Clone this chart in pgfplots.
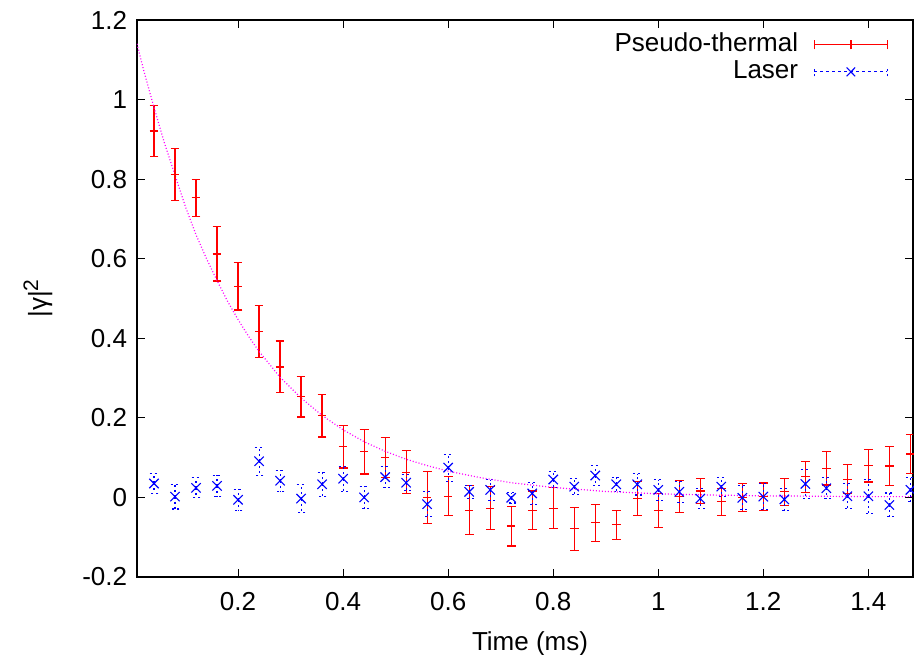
\documentclass[border=0pt]{standalone}
\usepackage{fontspec}
\setmainfont{Liberation Sans}
\usepackage{pgfplots}
\usepackage{pgfplotstable}
\pgfplotsset{compat=1.18}
\pgfplotstableread{
x y e
0.04 0.921 0.065
0.08 0.812 0.065
0.12 0.753 0.047
0.16 0.612 0.068
0.20 0.531 0.060
0.24 0.417 0.065
0.28 0.328 0.065
0.32 0.253 0.051
0.36 0.205 0.053
0.40 0.127 0.053
0.44 0.115 0.056
0.48 0.101 0.050
0.52 0.063 0.054
0.56 0.000 0.065
0.60 0.003 0.049
0.64 -0.032 0.062
0.68 -0.027 0.054
0.72 -0.072 0.050
0.76 -0.032 0.048
0.80 -0.027 0.051
0.84 -0.079 0.054
0.88 -0.064 0.046
0.92 -0.069 0.037
0.96 -0.003 0.043
1.00 -0.033 0.043
1.04 0.003 0.040
1.08 0.016 0.032
1.12 -0.011 0.034
1.16 0.000 0.035
1.20 0.002 0.034
1.24 0.014 0.034
1.28 0.052 0.039
1.32 0.073 0.042
1.36 0.046 0.036
1.40 0.080 0.041
1.44 0.079 0.049
1.48 0.109 0.049
}\thermal
\pgfplotstableread{
x y e
0.04 0.035 0.025
0.08 0.002 0.031
0.12 0.024 0.025
0.16 0.029 0.027
0.20 -0.006 0.026
0.24 0.091 0.035
0.28 0.042 0.026
0.32 -0.003 0.035
0.36 0.033 0.030
0.40 0.047 0.031
0.44 0.000 0.028
0.48 0.051 0.027
0.52 0.037 0.020
0.56 -0.017 0.032
0.60 0.075 0.034
0.64 0.014 0.016
0.68 0.019 0.026
0.72 -0.001 0.013
0.76 0.010 0.027
0.80 0.045 0.021
0.84 0.027 0.020
0.88 0.055 0.025
0.92 0.033 0.018
0.96 0.033 0.027
1.00 0.019 0.026
1.04 0.014 0.026
1.08 -0.003 0.025
1.12 0.027 0.024
1.16 -0.001 0.030
1.20 0.002 0.033
1.24 -0.005 0.028
1.28 0.034 0.036
1.32 0.023 0.026
1.36 0.003 0.031
1.40 0.003 0.043
1.44 -0.019 0.030
1.48 0.019 0.030
}\laser
\pgfplotstableread{
x y
0.0076 1.140
0.02 1.075
0.04 0.980
0.06 0.890
0.08 0.810
0.10 0.730
0.12 0.660
0.14 0.600
0.16 0.545
0.18 0.493
0.20 0.447
0.22 0.405
0.24 0.367
0.28 0.302
0.32 0.250
0.36 0.206
0.40 0.170
0.44 0.140
0.48 0.116
0.52 0.096
0.56 0.080
0.60 0.066
0.66 0.050
0.72 0.037
0.80 0.025
0.90 0.015
1.00 0.009
1.10 0.006
1.20 0.004
1.30 0.003
1.40 0.002
1.487 0.002
}\fit
\definecolor{gred}{rgb}{1,0,0}
\definecolor{gblue}{rgb}{0,0,1}
\definecolor{gmag}{rgb}{1,0,1}
\begin{document}
\begin{tikzpicture}
\begin{axis}[
  scale only axis, width=388pt, height=278.5pt,
  font=\fontsize{13}{15.6}\selectfont,
  /pgf/number format/assume math mode=true,
  xmin=0.0076, xmax=1.485, ymin=-0.2, ymax=1.2,
  xtick={0.2,0.4,0.6,0.8,1,1.2,1.4},
  xticklabels={0.2,0.4,0.6,0.8,1,1.2,1.4},
  ytick={-0.2,0,0.2,0.4,0.6,0.8,1,1.2},
  yticklabels={-0.2,0,0.2,0.4,0.6,0.8,1,1.2},
  tick align=inside, major tick length=4pt,
  tick style={black, line width=0.5pt},
  axis line style={black, line width=0.8pt},
  xticklabel style={anchor=north, inner sep=0pt, yshift=-7.5pt},
  yticklabel style={anchor=east, inner sep=0pt, xshift=-4.75pt},
  xlabel={Time (ms)},
  ylabel={|γ|{\fontsize{10.5}{12}\selectfont\raisebox{0.42em}{2}}},
  xlabel style={at={(axis description cs:0.5,0)}, anchor=center, yshift=-33.2pt, xshift=2.5pt},
  ylabel style={at={(axis description cs:-0.1276,0.5)}, anchor=center},
  legend plot pos=right,
  legend cell align=right,
  legend style={draw=none, fill=none, at={(rel axis cs:1,1)}, anchor=north east,
    xshift=-12.5pt, yshift=-5.7pt, inner sep=0pt, outer sep=0pt,
    row sep=0pt, column sep=7.2pt,
    nodes={inner sep=0.65pt, text height=9.5pt, text depth=2.7pt}},
]
\addplot[gred, line width=0.6pt, only marks, mark=+, mark size=2.15pt,
  legend image code/.code={
    \draw[gred, line width=0.6pt] (0pt,0pt) -- (36.5pt,0pt);
    \draw[gred, line width=0.6pt] (0pt,-2.2pt) -- (0pt,2.2pt);
    \draw[gred, line width=0.6pt] (36.5pt,-2.2pt) -- (36.5pt,2.2pt);
    \draw[gred, line width=0.6pt] (18.25pt,-2.2pt) -- (18.25pt,2.2pt);
  },
  error bars/.cd, y dir=both, y explicit, error mark=|,
  error bar style={gred, line width=0.6pt, solid},
  error mark options={gred, line width=0.6pt, mark size=2.2pt, solid}]
  table[x=x, y=y, y error=e] {\thermal};
\addlegendentry{Pseudo-thermal}
\addplot[gblue, line width=0.55pt, only marks, mark=x, mark size=3.3pt,
  mark options={solid},
  legend image code/.code={
    \draw[gblue, line width=0.55pt, dash pattern=on 1.5pt off 1.5pt] (0pt,0pt) -- (36.5pt,0pt);
    \draw[gblue, line width=0.55pt, dash pattern=on 1pt off 1.5pt] (0pt,-2.2pt) -- (0pt,2.2pt);
    \draw[gblue, line width=0.55pt, dash pattern=on 1pt off 1.5pt] (36.5pt,-2.2pt) -- (36.5pt,2.2pt);
    \draw[gblue, line width=0.55pt] (16.1pt,-2.2pt) -- (20.4pt,2.2pt);
    \draw[gblue, line width=0.55pt] (16.1pt,2.2pt) -- (20.4pt,-2.2pt);
  },
  error bars/.cd, y dir=both, y explicit, error mark=|,
  error bar style={gblue, line width=0.55pt, dash pattern=on 1pt off 1.5pt},
  error mark options={gblue, line width=0.55pt, mark size=2.2pt, dash pattern=on 1pt off 1.5pt}]
  table[x=x, y=y, y error=e] {\laser};
\addlegendentry{Laser}
\addplot[gmag, line width=0.6pt, dash pattern=on 0.5pt off 1pt, no marks, forget plot]
  table[x=x, y=y] {\fit};
\end{axis}
\pgfresetboundingbox
\path[use as bounding box] ([shift={(-68.5pt,-39pt)}]current axis.south west) rectangle ([shift={(0.5pt,10pt)}]current axis.north east);
\end{tikzpicture}
\end{document}
